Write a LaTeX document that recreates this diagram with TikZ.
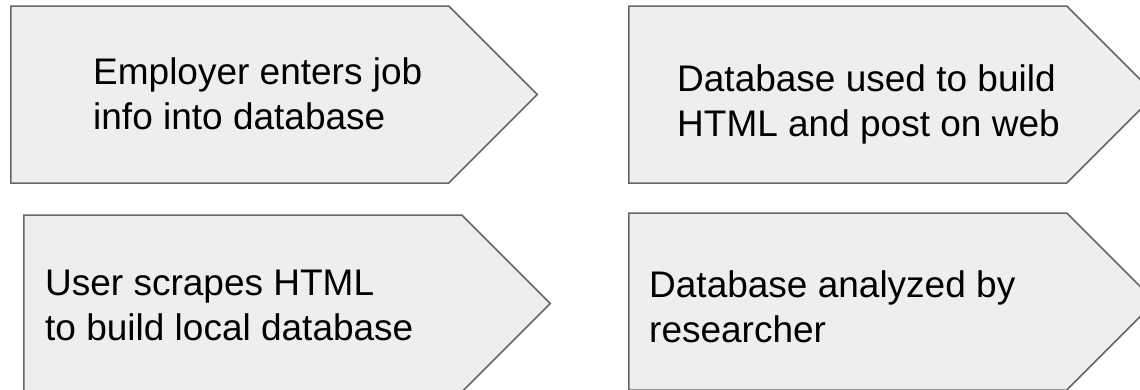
\documentclass[tikz,border=0pt]{standalone}
\usepackage{fontspec}
\setmainfont{Liberation Sans}
\usetikzlibrary{shapes.symbols}
\definecolor{boxfill}{HTML}{EEEEEE}
\definecolor{boxline}{HTML}{666666}
\tikzset{stepsig/.style={signal, signal to=east, signal pointer angle=90, draw=boxline, fill=boxfill, line width=1.5pt, inner sep=0pt, minimum height=177pt, minimum width=526.5pt}}
\tikzset{steptext/.style={anchor=base west, align=left, inner sep=0pt, font=\fontsize{37}{45}\selectfont}}
\begin{document}
\begin{tikzpicture}[x=1pt,y=-1pt]
            \clip (0,0) rectangle (1140,389);
            \node [stepsig, anchor=west] at (10,94.5) (employer) {};
            \node [stepsig, anchor=west] at (628,94.5) (post) {};
            \node [stepsig, anchor=west] at (23,303.5) (scrape) {};
            \node [stepsig, anchor=west] at (628,301.5) (analyze) {};
            \node [steptext] at (93,129) (employertext) {Employer enters job\\info into database};
            \node [steptext] at (677,136) (posttext) {Database used to build\\HTML and post on web};
            \node [steptext] at (45,340) (scrapetext) {User scrapes HTML\\to build local database};
            \node [steptext] at (649,342) (analyzetext) {Database analyzed by\\researcher};
            \end{tikzpicture}
\end{document}
